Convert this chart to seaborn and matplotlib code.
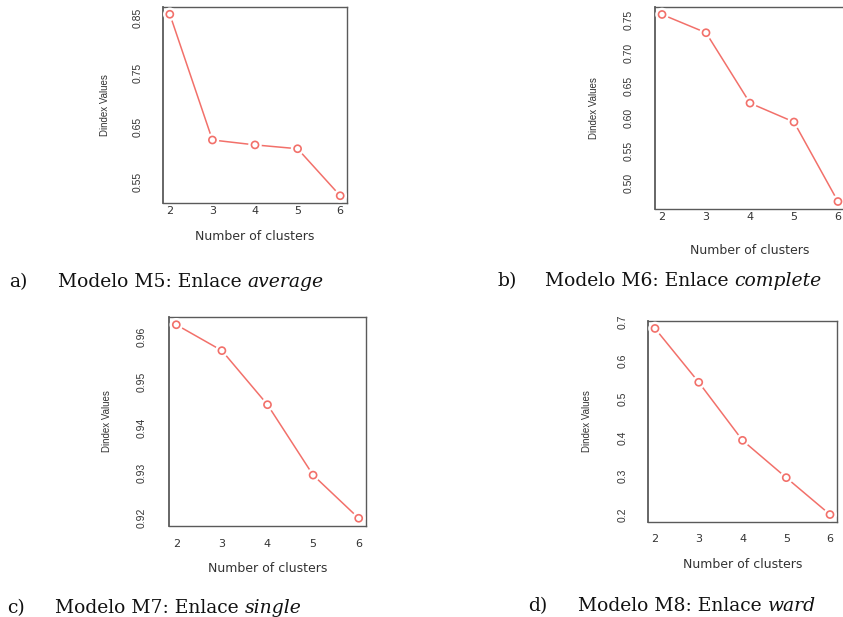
import numpy as np
import pandas as pd
import seaborn as sns
import matplotlib
matplotlib.use("Agg")
import matplotlib.pyplot as plt
from matplotlib.transforms import IdentityTransform, Bbox

# Dindex values per number of clusters for each linkage method
clusters = [2, 3, 4, 5, 6]
dindex_average = [0.857, 0.627, 0.618, 0.611, 0.525]
dindex_complete = [0.759, 0.731, 0.623, 0.594, 0.472]
dindex_single = [0.9626, 0.9569, 0.9450, 0.9295, 0.9200]
dindex_ward = [0.684, 0.544, 0.393, 0.296, 0.200]

yticks_average = [0.55, 0.65, 0.75, 0.85]
ylabels_average = ["0.55", "0.65", "0.75", "0.85"]
yticks_complete = [0.50, 0.55, 0.60, 0.65, 0.70, 0.75]
ylabels_complete = ["0.50", "0.55", "0.60", "0.65", "0.70", "0.75"]
yticks_single = [0.92, 0.93, 0.94, 0.95, 0.96]
ylabels_single = ["0.92", "0.93", "0.94", "0.95", "0.96"]
yticks_ward = [0.2, 0.3, 0.4, 0.5, 0.6, 0.7]
ylabels_ward = ["0.2", "0.3", "0.4", "0.5", "0.6", "0.7"]

caption_tags = ["a)", "b)", "c)", "d)"]
caption_texts = ["Modelo M5: Enlace ", "Modelo M6: Enlace ",
                 "Modelo M7: Enlace ", "Modelo M8: Enlace "]
caption_linkages = ["average", "complete", "single", "ward"]

x_label = "Number of clusters"
y_label = "Dindex Values"

RED = "#F2706A"
FRAME = "#5a5a5a"
W, H = 843, 617

sns.set_style("white")
plt.rcParams["font.family"] = ["DejaVu Sans"]

fig = plt.figure(figsize=(W / 100, H / 100), dpi=100)
fig.patch.set_facecolor("white")

# panel boxes in pixels: left, top, right, bottom
boxes = [(163, 7, 347, 203), (655, 7, 845, 209),
         (169, 317, 366, 526), (648, 321, 837, 522)]
# pixel offsets: y tick label centre, ylabel centre, x tick pad, xlabel centre
offsets = [(26, 58, 2.5, 34), (27, 61, 2.0, 41),
           (28, 62, 9.5, 43), (26, 61, 9.0, 43)]

series = [dindex_average, dindex_complete, dindex_single, dindex_ward]
yticks_all = [yticks_average, yticks_complete, yticks_single, yticks_ward]
ylabels_all = [ylabels_average, ylabels_complete, ylabels_single, ylabels_ward]

for box, off, vals, yt, yl in zip(boxes, offsets, series, yticks_all, ylabels_all):
    l, t, r, b = box
    ax = fig.add_axes([l / W, 1 - b / H, (r - l) / W, (b - t) / H])
    df = pd.DataFrame({"k": clusters, "d": vals})
    sns.lineplot(data=df, x="k", y="d", ax=ax, color=RED, lw=1.1, zorder=2)
    # white discs open small gaps in the line around each point
    sns.scatterplot(data=df, x="k", y="d", ax=ax, s=95, color="white",
                    edgecolor="none", zorder=3)
    sns.scatterplot(data=df, x="k", y="d", ax=ax, s=26, marker="o",
                    color=RED, facecolor="none", edgecolor=RED,
                    linewidth=1.2, zorder=4)
    ax.margins(x=0.04, y=0.04)
    ax.set_xticks(clusters)
    ax.set_xticklabels([str(c) for c in clusters], fontsize=8,
                       color="#333333")
    ax.set_yticks(yt)
    ax.set_yticklabels(yl, rotation=90, va="center", fontsize=7.5,
                       fontfamily="Liberation Sans", color="#333333")
    ax.tick_params(axis="both", length=0)
    ax.tick_params(axis="y", pad=(off[0] - 6) * 0.72)
    ax.tick_params(axis="x", pad=off[2])
    ax.set_xlabel(x_label, fontsize=9, color="#333333")
    ax.set_ylabel(y_label, fontsize=7, fontfamily="Liberation Sans",
                  color="#333333")
    ax.xaxis.set_label_coords(0.5, -off[3] / (b - t))
    ax.xaxis.label.set_va("center")
    ax.yaxis.set_label_coords(-off[1] / (r - l), 0.5)
    ax.yaxis.label.set_va("center")
    for side, sp in ax.spines.items():
        sp.set_color(FRAME)
        sp.set_linewidth(1.3 if side == "left" else 1.0)
    ax.set_facecolor("white")

# captions under each panel (tag x, text x, baseline y, clip y) in pixels
caption_pos = [(9, 58, 287, 291), (497, 545, 286, 290),
               (7, 55, 613, 617), (528, 578, 611, 617)]

fig.canvas.draw()
renderer = fig.canvas.get_renderer()
cap_font = dict(fontsize=13.5, fontfamily="DejaVu Serif", color="#111111",
                va="baseline", ha="left", transform=IdentityTransform())
for tag, txt, link, (xt, xx, yb, yc) in zip(caption_tags, caption_texts,
                                             caption_linkages, caption_pos):
    clip = Bbox.from_extents(0, H - yc, W, H)
    t0 = fig.text(xt, H - yb, tag, **cap_font)
    t1 = fig.text(xx, H - yb, txt, **cap_font)
    ext = t1.get_window_extent(renderer)
    t2 = fig.text(ext.x1, H - yb, link, style="italic", **cap_font)
    for tx in (t0, t1, t2):
        tx.set_clip_box(clip)
        tx.set_clip_on(True)

fig.savefig("out.png", dpi=100, facecolor="white")
